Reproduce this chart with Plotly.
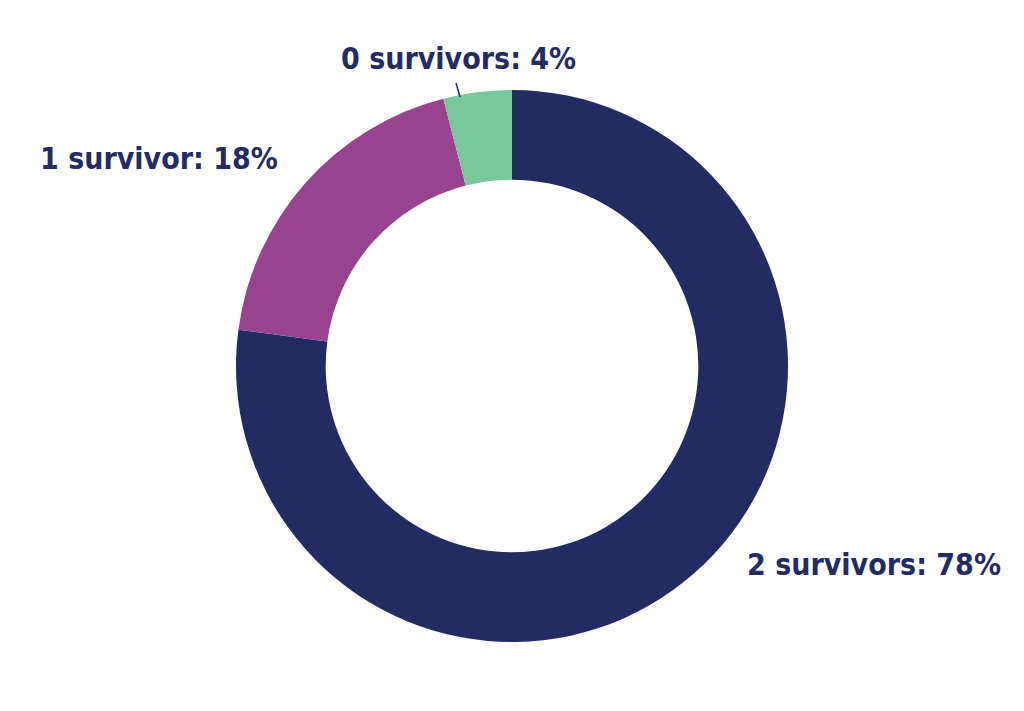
import plotly.graph_objects as go

labels = ["2 survivors", "1 survivor", "0 survivors"]
# slice sizes as drawn in the picture, and the percentages printed in the labels
slice_values = [77.1, 18.9, 4.0]
label_pct = [78, 18, 4]
colors = ["#232B63", "#97438F", "#77C89A"]

OFF = 8  # page body margin in the browser
W, H = 1024 - 2 * OFF, 711 - 2 * OFF


def px(x):
    return (x - OFF) / W


def py(y):
    return 1 - (y - OFF) / H


label_font = dict(family="DejaVu Sans Condensed, Roboto, sans-serif", size=30, color="#232B63")

fig = go.Figure(go.Pie(
    labels=labels,
    values=slice_values,
    hole=0.675,
    sort=False,
    direction="clockwise",
    rotation=0,
    marker=dict(colors=colors, line=dict(width=0)),
    textinfo="none",
    hoverinfo="label",
    domain=dict(x=[px(236), px(788)], y=[py(642), py(90)]),
))

# outside labels placed by hand
label_pos = [(745, 564, "left"), (280, 158, "right"), (458, 58, "center")]
for name, v, (lx, ly, anchor) in zip(labels, label_pct, label_pos):
    fig.add_annotation(
        text=f"<b>{name}: {v}%</b>", x=px(lx), y=py(ly),
        xref="paper", yref="paper", xanchor=anchor, yanchor="middle",
        showarrow=False, font=label_font,
    )

# short leader line for the small slice
fig.add_shape(type="line", xref="paper", yref="paper",
              x0=px(456), y0=py(83), x1=px(460), y1=py(97),
              line=dict(color="#232B63", width=1.5))

fig.update_layout(
    width=W, height=H,
    margin=dict(l=0, r=0, t=0, b=0),
    showlegend=False,
    paper_bgcolor="white",
    plot_bgcolor="white",
)

fig.write_html("out.html")
